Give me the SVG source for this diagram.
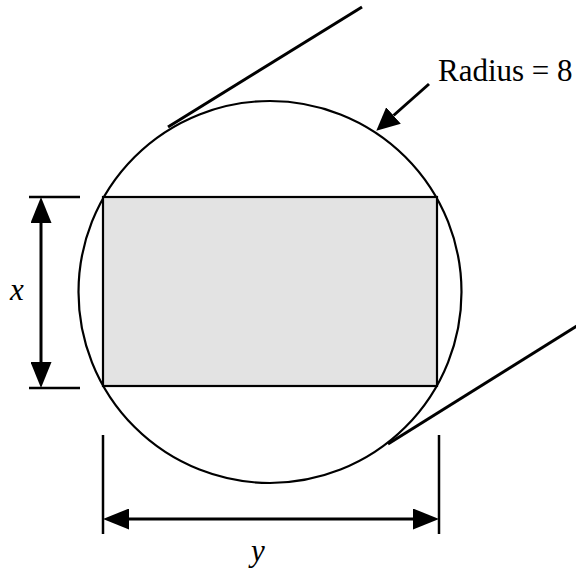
<svg xmlns="http://www.w3.org/2000/svg" width="576" height="573" viewBox="0 0 576 573">
<style>
.ln{stroke:#000;fill:none}
.lbl{font-size:31px;fill:#000}
.it{font-style:italic}
</style>
<defs>
<marker id="ah" viewBox="0 0 26 21" refX="0" refY="10.5" markerWidth="26" markerHeight="21" markerUnits="userSpaceOnUse" orient="auto-start-reverse">
<path d="M0,0 L26,10.5 L0,21 Z" fill="#000"/>
</marker>
<marker id="ah2" viewBox="0 0 23 22" refX="0" refY="11" markerWidth="23" markerHeight="22" markerUnits="userSpaceOnUse" orient="auto">
<path d="M0,0 L23,11 L0,22 Z" fill="#000"/>
</marker>
</defs>
<rect width="576" height="573" fill="#fff"/>
<g id="circle"><ellipse cx="270" cy="292" rx="191.5" ry="191" class="ln" stroke-width="2.2"/></g>
<g id="rectangle"><rect x="103" y="197" width="334" height="189" fill="#e3e3e3" stroke="#000" stroke-width="2.2"/></g>
<g id="labels" font-family="Liberation Serif, DejaVu Serif, serif">
<text class="lbl" x="438" y="81">Radius = 8</text>
<text class="lbl it" x="10" y="300">x</text>
<text class="lbl it" x="251" y="561">y</text>
</g>
<g id="connectors">
<line class="ln" x1="168" y1="127" x2="362" y2="7" stroke-width="3"/>
<line class="ln" x1="388" y1="444" x2="580" y2="324" stroke-width="3"/>
<line class="ln" x1="429" y1="84" x2="393.5" y2="115.5" stroke-width="3" marker-end="url(#ah2)"/>
<line class="ln" x1="29" y1="197" x2="80" y2="197" stroke-width="2.5"/>
<line class="ln" x1="29" y1="388" x2="80" y2="388" stroke-width="2.5"/>
<line class="ln" x1="41" y1="223" x2="41" y2="362" stroke-width="3" marker-start="url(#ah)" marker-end="url(#ah)"/>
<line class="ln" x1="103" y1="435" x2="103" y2="534" stroke-width="2.5"/>
<line class="ln" x1="439" y1="435" x2="439" y2="534" stroke-width="2.5"/>
<line class="ln" x1="129" y1="519" x2="413" y2="519" stroke-width="3" marker-start="url(#ah)" marker-end="url(#ah)"/>
</g>
</svg>
